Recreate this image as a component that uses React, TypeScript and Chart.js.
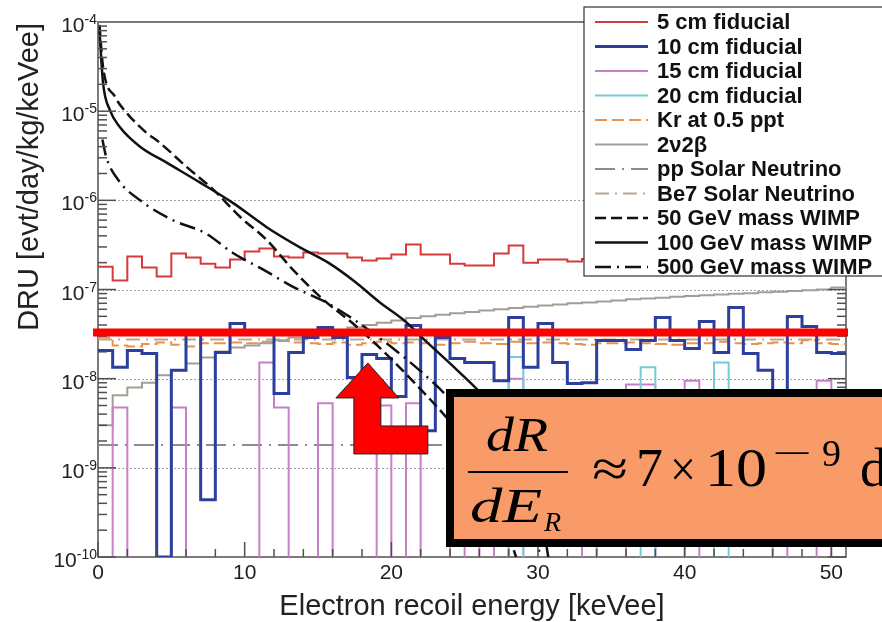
import React, { useEffect, useRef } from "react";
import { Chart, registerables } from "chart.js";

Chart.register(...registerables);

// ---------- data ----------
const binEdges = [0, 1, 2, 3, 4, 5, 6, 7, 8, 9, 10, 11, 12, 13, 14, 15, 16, 17, 18, 19, 20, 21, 22, 23, 24, 25, 26, 27, 28, 29, 30, 31, 32, 33, 34, 35, 36, 37, 38, 39, 40, 41, 42, 43, 44, 45, 46, 47, 48, 49, 50, 51];

const fid5 = [
  1.8e-7, 1.26e-7, 2.34e-7, 1.76e-7, 1.4e-7, 2.53e-7, 2.28e-7, 1.95e-7, 1.76e-7, 2.17e-7,
  2.67e-7, 2.88e-7, 2.35e-7, 2.28e-7, 2.6e-7, 2.53e-7, 2.53e-7, 2.28e-7, 2.11e-7, 2.23e-7,
  2.47e-7, 3.19e-7, 2.47e-7, 2.47e-7, 1.95e-7, 1.86e-7, 1.86e-7, 2.53e-7, 3.11e-7, 2.0e-7,
  2.17e-7, 2.17e-7, 2.06e-7, 2.2e-7, 1.9e-7, 2.4e-7, 2.1e-7, 2.6e-7, 2.0e-7, 2.3e-7,
  1.8e-7, 2.2e-7, 2.5e-7, 2.0e-7, 1.9e-7, 2.3e-7, 2.1e-7, 2.4e-7, 2.0e-7, 2.2e-7, 2.1e-7,
];

const fid10 = [
  2.07e-8, 1.34e-8, 2.07e-8, 1.92e-8, 1.0e-10, 1.24e-8, 3.47e-8, 4.4e-10, 1.97e-8, 4.16e-8,
  3.47e-8, 3.47e-8, 6.8e-9, 1.97e-8, 2.9e-8, 3.75e-8, 2.9e-8, 1.03e-8, 1.87e-8, 1.68e-8,
  6.3e-9, 3.95e-8, 2.6e-9, 2.9e-8, 1.68e-8, 1.52e-8, 1.52e-8, 9.5e-9, 4.85e-8, 1.34e-8,
  4.16e-8, 1.52e-8, 8.8e-9, 9.0e-9, 2.68e-8, 2.68e-8, 2.12e-8, 2.68e-8, 4.85e-8, 2.68e-8,
  2.18e-8, 4.38e-8, 1.97e-8, 6.3e-8, 1.92e-8, 1.24e-8, 3.0e-9, 4.98e-8, 3.85e-8, 1.97e-8, 1.92e-8,
];

const fid15 = [
  0, 4.75e-9, 0, 0, 0, 4.75e-9, 0, 0, 0, 0,
  0, 1.52e-8, 4.75e-9, 0, 0, 5.3e-9, 0, 0, 0, 5.0e-9,
  0, 5.3e-9, 0, 0, 5.0e-9, 0, 5.0e-9, 0, 1.0e-8, 0,
  0, 0, 0, 5.0e-9, 0, 0, 8.6e-9, 8.6e-9, 0, 0,
  9.5e-9, 0, 0, 0, 0, 0, 5.0e-9, 0, 0, 9.5e-9, 0,
];

const fid20 = [
  0, 0, 0, 0, 0, 0, 0, 0, 0, 0,
  0, 0, 0, 0, 0, 0, 0, 0, 0, 0,
  0, 0, 0, 0, 0, 0, 0, 0, 1.75e-8, 0,
  0, 0, 0, 0, 0, 0, 0, 1.34e-8, 0, 0,
  0, 0, 1.52e-8, 0, 0, 0, 0, 0, 0, 0, 0,
];

const krypton = [
  2.9e-8, 2.35e-8, 2.3e-8, 2.45e-8, 2.55e-8, 2.4e-8, 2.3e-8, 2.5e-8, 2.5e-8, 2.55e-8,
  2.5e-8, 2.6e-8, 2.65e-8, 2.55e-8, 2.5e-8, 2.45e-8, 2.55e-8, 2.4e-8, 2.5e-8, 2.6e-8,
  2.5e-8, 2.55e-8, 2.5e-8, 2.4e-8, 2.5e-8, 2.6e-8, 2.5e-8, 2.45e-8, 2.6e-8, 2.5e-8,
  2.55e-8, 2.5e-8, 2.45e-8, 2.4e-8, 2.5e-8, 2.5e-8, 2.55e-8, 2.5e-8, 2.45e-8, 2.4e-8,
  2.5e-8, 2.5e-8, 2.6e-8, 2.5e-8, 2.45e-8, 2.5e-8, 2.55e-8, 2.5e-8, 2.7e-8, 2.5e-8, 2.45e-8,
];

const twoNuBB = [
  3.0e-9, 6.5e-9, 7.96e-9, 9.0e-9, 1.09e-8, 1.24e-8, 1.48e-8, 1.73e-8, 2.02e-8, 2.24e-8,
  2.36e-8, 2.5e-8, 2.7e-8, 2.9e-8, 3.1e-8, 3.3e-8, 3.5e-8, 3.75e-8, 4.0e-8, 4.25e-8,
  4.5e-8, 4.8e-8, 5.0e-8, 5.2e-8, 5.4e-8, 5.6e-8, 5.8e-8, 6.0e-8, 6.2e-8, 6.4e-8,
  6.6e-8, 6.8e-8, 7.0e-8, 7.15e-8, 7.35e-8, 7.55e-8, 7.75e-8, 7.95e-8, 8.1e-8, 8.3e-8,
  8.45e-8, 8.6e-8, 8.8e-8, 8.95e-8, 9.1e-8, 9.3e-8, 9.45e-8, 9.6e-8, 9.8e-8, 1.0e-7, 1.05e-7,
];

const ppSolarX = [0, 51];
const ppSolarY = [1.8e-9, 1.8e-9];
const be7SolarX = [0, 51];
const be7SolarY = [2.75e-8, 2.75e-8];

const wimp50X = [0.1, 0.34, 1.16, 2.07, 3.21, 4.23, 6.08, 7.86, 9.7, 11.5, 13.3, 15.4, 17.5, 19.5, 21.6, 23.8, 25.5, 27.0, 28.5];
const wimp50Y = [9.3e-5, 3.16e-5, 1.45e-5, 9.1e-6, 5.9e-6, 4.4e-6, 2.34e-6, 1.32e-6, 6.5e-7, 3.6e-7, 1.66e-7, 7.6e-8, 4.0e-8, 2.0e-8, 8.9e-9, 3.6e-9, 1.6e-9, 5.6e-10, 1.0e-10];

const wimp100X = [0.1, 0.34, 0.82, 1.5, 2.87, 4.71, 6.97, 9.22, 11.5, 13.8, 15.8, 17.5, 19.2, 20.8, 22.5, 24.2, 25.75, 27.5, 29.0, 30.0, 30.7];
const wimp100Y = [8.1e-5, 2.1e-5, 1.02e-5, 6.6e-6, 4.0e-6, 2.63e-6, 1.58e-6, 9.3e-7, 5.0e-7, 2.95e-7, 1.95e-7, 1.23e-7, 7.2e-8, 4.6e-8, 2.5e-8, 1.38e-8, 7.9e-9, 3.9e-9, 1.58e-9, 5.0e-10, 1.0e-10];

const wimp500X = [0.3, 0.55, 1.37, 2.87, 5.1, 7.3, 9.2, 11.3, 13.3, 15.6, 18.8, 22.9, 25.0, 27.0, 29.0, 30.2];
const wimp500Y = [4.8e-6, 3.1e-6, 1.7e-6, 1.0e-6, 6.0e-7, 4.3e-7, 2.57e-7, 1.66e-7, 1.07e-7, 7.1e-8, 3.2e-8, 8.9e-9, 3.9e-9, 1.58e-9, 4.4e-10, 1.0e-10];

const xTickLabels = [0, 10, 20, 30, 40, 50];
const yDecades = [-10, -9, -8, -7, -6, -5, -4];
const gridDecades = [-9, -8, -7, -6, -5];

const thresholdValue = 3.3e-8; // red annotation line
const arrowTip = { x: 18.4, y: 1.5e-8 };

const Y_MIN = 1e-10;
const Y_MAX = 1e-4;
const OFF_SCALE = 1e-13; // empty bins fall below the axis floor

// ---------- helpers ----------
const SANS = '"Liberation Sans", Arial, Helvetica, sans-serif';
const SERIF = '"Liberation Serif", "Times New Roman", serif';

function histPoints(vals: number[]) {
  const pts = vals.map((v, i) => ({ x: binEdges[i], y: v > 0 ? v : OFF_SCALE }));
  pts.push({ x: binEdges[vals.length], y: pts[pts.length - 1].y });
  return pts;
}
function curvePoints(xs: number[], ys: number[]) {
  return xs.map((x, i) => ({ x, y: ys[i] }));
}

const datasets: any[] = [
  { label: "5 cm fiducial", data: histPoints(fid5), borderColor: "#d63a3a", borderWidth: 2, stepped: true, order: 2 },
  { label: "10 cm fiducial", data: histPoints(fid10), borderColor: "#2c3f9c", borderWidth: 3, stepped: true, order: 3 },
  { label: "15 cm fiducial", data: histPoints(fid15), borderColor: "#c77fc7", borderWidth: 2, stepped: true, order: 5 },
  { label: "20 cm fiducial", data: histPoints(fid20), borderColor: "#74ccd6", borderWidth: 2, stepped: true, order: 4 },
  { label: "Kr at 0.5 ppt", data: histPoints(krypton), borderColor: "#e8924e", borderWidth: 2, borderDash: [12, 5], stepped: true, order: 7 },
  { label: "2\u03bd2\u03b2", data: histPoints(twoNuBB), borderColor: "#a59d94", borderWidth: 2, stepped: true, order: 6 },
  { label: "pp Solar Neutrino", data: curvePoints(ppSolarX, ppSolarY), borderColor: "#8c8c8c", borderWidth: 2, borderDash: [20, 7, 2, 7], order: 9 },
  { label: "Be7 Solar Neutrino", data: curvePoints(be7SolarX, be7SolarY), borderColor: "#b8a890", borderWidth: 2, borderDash: [14, 6, 2, 6], order: 8 },
  { label: "50 GeV mass WIMP", data: curvePoints(wimp50X, wimp50Y), borderColor: "#111111", borderWidth: 2.5, borderDash: [11, 5], cubicInterpolationMode: "monotone", order: 1 },
  { label: "100 GeV mass WIMP", data: curvePoints(wimp100X, wimp100Y), borderColor: "#111111", borderWidth: 2.5, cubicInterpolationMode: "monotone", order: 1 },
  { label: "500 GeV mass WIMP", data: curvePoints(wimp500X, wimp500Y), borderColor: "#111111", borderWidth: 2.5, borderDash: [16, 6, 2, 6], cubicInterpolationMode: "monotone", order: 1 },
];

function seg(ctx: any, x0: number, y0: number, x1: number, y1: number) {
  ctx.beginPath();
  ctx.moveTo(x0, y0);
  ctx.lineTo(x1, y1);
  ctx.stroke();
}

function fitText(ctx: any, text: string, x: number, y: number, font: string, targetWidth?: number) {
  ctx.font = font;
  const w = ctx.measureText(text).width;
  const sx = targetWidth ? targetWidth / w : 1;
  ctx.save();
  ctx.translate(x, y);
  ctx.scale(sx, 1);
  ctx.fillText(text, 0, 0);
  ctx.restore();
}

const overlayPlugin = {
  id: "overlayPlugin",
  beforeDatasetsDraw(chart: any) {
    const { ctx, chartArea: a } = chart;
    const ys = chart.scales.y;
    ctx.save();
    ctx.strokeStyle = "#a3a3a3";
    ctx.lineWidth = 1;
    ctx.setLineDash([2, 2]);
    for (const e of gridDecades) {
      const py = Math.round(ys.getPixelForValue(Math.pow(10, e))) + 0.5;
      seg(ctx, a.left, py, a.right, py);
    }
    ctx.setLineDash([]);
    ctx.strokeStyle = "#505050";
    ctx.lineWidth = 1.5;
    ctx.strokeRect(a.left, a.top, a.right - a.left, a.bottom - a.top);
    ctx.restore();
  },
  afterDatasetsDraw(chart: any) {
    const { ctx, chartArea: a } = chart;
    const xs = chart.scales.x;
    const ys = chart.scales.y;
    ctx.save();

    // ---- axis ticks ----
    ctx.strokeStyle = "#505050";
    ctx.lineWidth = 1.5;
    for (let e = yDecades[0]; e < yDecades[yDecades.length - 1]; e++) {
      for (let m = 1; m <= 9; m++) {
        const py = ys.getPixelForValue(m * Math.pow(10, e));
        const len = m === 1 ? 18 : 9;
        seg(ctx, a.left, py, a.left + len, py);
        seg(ctx, a.right - len, py, a.right, py);
      }
    }
    for (let v = 0; v <= 50; v += 2) {
      const px = xs.getPixelForValue(v);
      const len = v % 10 === 0 ? 15 : 8;
      seg(ctx, px, a.bottom, px, a.bottom - len);
    }

    // ---- tick labels ----
    ctx.fillStyle = "#222";
    ctx.textBaseline = "alphabetic";
    for (const e of yDecades) {
      const py = ys.getPixelForValue(Math.pow(10, e));
      const base = "10";
      const exp = "-" + Math.abs(e);
      ctx.font = `21px ${SANS}`;
      const bw = ctx.measureText(base).width;
      ctx.font = `14px ${SANS}`;
      const ew = ctx.measureText(exp).width;
      const right = a.left - 1;
      ctx.textAlign = "left";
      ctx.fillText(exp, right - ew, py + 2);
      ctx.font = `21px ${SANS}`;
      ctx.fillText(base, right - ew - bw, py + 10);
    }
    ctx.textAlign = "center";
    ctx.font = `21px ${SANS}`;
    for (const v of xTickLabels) {
      ctx.fillText(String(v), xs.getPixelForValue(v), a.bottom + 22);
    }

    // ---- axis titles ----
    ctx.font = `29px ${SANS}`;
    ctx.fillText("Electron recoil energy [keVee]", (a.left + a.right) / 2, 615);
    ctx.save();
    ctx.translate(38, a.top + 1);
    ctx.rotate(-Math.PI / 2);
    ctx.textAlign = "right";
    ctx.fillText("DRU [evt/day/kg/keVee]", 0, 0);
    ctx.restore();

    // ---- legend ----
    const L = { left: 584, top: 7, right: 896, bottom: 276, row0: 22, step: 24.5, s0: 595, s1: 648, tx: 657 };
    ctx.fillStyle = "#ffffff";
    ctx.fillRect(L.left, L.top, L.right - L.left, L.bottom - L.top);
    ctx.strokeStyle = "#333";
    ctx.lineWidth = 1.2;
    ctx.strokeRect(L.left, L.top, L.right - L.left, L.bottom - L.top);
    chart.data.datasets.forEach((ds: any, i: number) => {
      const ry = L.row0 + i * L.step;
      ctx.strokeStyle = ds.borderColor;
      ctx.lineWidth = ds.borderWidth;
      ctx.setLineDash(ds.borderDash || []);
      seg(ctx, L.s0, ry, L.s1, ry);
      ctx.setLineDash([]);
      ctx.fillStyle = "#111";
      ctx.textAlign = "left";
      ctx.textBaseline = "middle";
      ctx.font = `bold 22px ${SANS}`;
      ctx.fillText(ds.label, L.tx, ry + 1);
    });
    ctx.textBaseline = "alphabetic";

    // ---- red threshold line ----
    const ty = ys.getPixelForValue(thresholdValue);
    ctx.strokeStyle = "#ff0000";
    ctx.lineWidth = 8;
    seg(ctx, a.left - 5, ty, a.right + 2, ty);

    // ---- red arrow ----
    const ax = xs.getPixelForValue(arrowTip.x);
    const ay = ys.getPixelForValue(arrowTip.y);
    const shape = [[0, 0], [31, 35], [13, 35], [13, 63], [60, 63], [60, 91], [-14, 91], [-14, 35], [-32, 35]];
    ctx.beginPath();
    shape.forEach(([dx, dy], i) => (i === 0 ? ctx.moveTo(ax + dx, ay + dy) : ctx.lineTo(ax + dx, ay + dy)));
    ctx.closePath();
    ctx.fillStyle = "#ff0000";
    ctx.fill();
    ctx.strokeStyle = "#222";
    ctx.lineWidth = 1;
    ctx.stroke();

    // ---- formula box ----
    const B = { left: 446, top: 389, right: 900, bottom: 547, bw: 8 };
    ctx.fillStyle = "#000";
    ctx.fillRect(B.left, B.top, B.right - B.left, B.bottom - B.top);
    ctx.fillStyle = "#f99b68";
    ctx.fillRect(B.left + B.bw, B.top + B.bw, B.right - B.left - 2 * B.bw, B.bottom - B.top - 2 * B.bw);
    ctx.fillStyle = "#000";
    ctx.textAlign = "left";
    const it = `italic 48px ${SERIF}`;
    fitText(ctx, "dR", 486, 451, it, 62);
    ctx.fillRect(468, 471, 100, 2);
    fitText(ctx, "dE", 470, 522, it, 72);
    fitText(ctx, "R", 544, 531, `italic 28px ${SERIF}`);
    fitText(ctx, "\u2248", 592, 486, `52px ${SERIF}`, 36);
    fitText(ctx, "7", 636, 486, `54px ${SERIF}`);
    fitText(ctx, "\u00d7", 670, 486, `50px ${SERIF}`, 26);
    fitText(ctx, "10", 705, 486, `54px ${SERIF}`, 62);
    fitText(ctx, "\u2212", 772, 466, `38px ${SERIF}`, 40);
    fitText(ctx, "9", 822, 466, `38px ${SERIF}`);
    fitText(ctx, "dru", 860, 486, `54px ${SERIF}`);

    ctx.restore();
  },
};

export default function App() {
  const ref = useRef<HTMLCanvasElement>(null);
  useEffect(() => {
    const chart = new Chart(ref.current as HTMLCanvasElement, {
      type: "line",
      data: { datasets },
      options: {
        animation: false,
        responsive: false,
        devicePixelRatio: 1,
        layout: { padding: { left: 98, top: 22, right: 36, bottom: 65 } },
        elements: { point: { radius: 0 }, line: { fill: false } },
        scales: {
          x: { type: "linear", min: 0, max: 51, display: false },
          y: { type: "logarithmic", min: Y_MIN, max: Y_MAX, display: false },
        },
        plugins: { legend: { display: false }, tooltip: { enabled: false } },
      } as any,
      plugins: [overlayPlugin],
    });
    return () => chart.destroy();
  }, []);
  return (
    <div style={{ position: "fixed", left: 0, top: 0, width: 882, height: 622, background: "#fff", overflow: "hidden" }}>
      <canvas ref={ref} width={882} height={622} style={{ display: "block" }} />
    </div>
  );
}
